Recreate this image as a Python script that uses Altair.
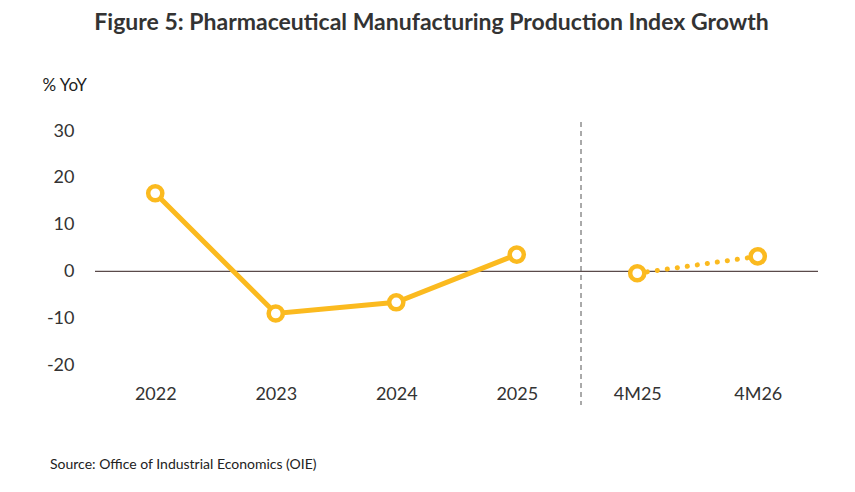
import altair as alt
import pandas as pd

categories = ["2022", "2023", "2024", "2025", "4M25", "4M26"]
values = [16.7, -9.0, -6.6, 3.6, -0.4, 3.2]
series = ["actual", "actual", "actual", "actual", "ytd", "ytd"]
y_ticks = [-20, -10, 0, 10, 20, 30]

df = pd.DataFrame({"cat": categories, "val": values, "series": series})
zero_df = pd.DataFrame({"z": [0]})
src_df = pd.DataFrame({"t": ["Source: Office of Industrial Economics (OIE)"]})

COLOR = "#FBBA1F"
FONT = "Lato"

x_enc = alt.X("cat:N", sort=categories, scale=alt.Scale(paddingOuter=0.5),
              axis=alt.Axis(title=None, labelAngle=0, domain=False, ticks=False,
                            labelPadding=20, labelFontSize=18, labelColor="#333333",
                            labelFont=FONT))
y_enc = alt.Y("val:Q", scale=alt.Scale(domain=[-20, 30], nice=False, zero=False),
              axis=alt.Axis(values=y_ticks, domain=False, ticks=False, grid=False,
                            labelExpr="replace(datum.label, '\u2212', '-')",
                            labelPadding=21, labelFontSize=18, labelColor="#333333",
                            labelFont=FONT,
                            title="% YoY", titleAngle=0, titleX=-53, titleY=-46,
                            titleAlign="left", titleBaseline="middle",
                            titleFontSize=17, titleFontWeight="normal",
                            titleFont=FONT, titleColor="#222222"))

base = alt.Chart(df)

zero = alt.Chart(zero_df).mark_rule(color="#5a4a4a", strokeWidth=1.2).encode(
    y=alt.Y("z:Q", scale=alt.Scale(domain=[-20, 30], nice=False, zero=False)))

divider = alt.Chart(zero_df).mark_rule(color="#555555", strokeWidth=1, strokeDash=[5, 4]).encode(
    x=alt.value(486), y=alt.value(-9), y2=alt.value(274))

solid = base.transform_filter(alt.datum.series == "actual").mark_line(
    color=COLOR, strokeWidth=5).encode(x=x_enc, y=y_enc)

dotted = base.transform_filter(alt.datum.series == "ytd").mark_line(
    color=COLOR, strokeWidth=5, strokeDash=[0.1, 10], strokeCap="round").encode(x=x_enc, y=y_enc)

points = base.mark_point(shape="circle", filled=True, fill="white", stroke=COLOR,
                         strokeWidth=4.5, size=200, opacity=1).encode(x=x_enc, y=y_enc)

source = alt.Chart(src_df).mark_text(align="left", baseline="middle", fontSize=14,
                                     font=FONT, color="#222222").encode(
    x=alt.value(-45), y=alt.value(334), text="t:N")

chart = alt.layer(zero, divider, solid, dotted, points, source).properties(
    width=723, height=234,
    title=alt.TitleParams("Figure 5: Pharmaceutical Manufacturing Production Index Growth",
                          anchor="middle", dx=-25, offset=41, fontSize=23,
                          font=FONT, fontWeight="bold", color="#333333"),
    autosize=alt.AutoSizeParams(type="none"),
    padding={"left": 95, "top": 131, "right": 37, "bottom": 127},
).configure(background="white", view=alt.ViewConfig(stroke="transparent", strokeWidth=0))

chart.save("out.html", embed_options={"renderer": "svg", "actions": False})
